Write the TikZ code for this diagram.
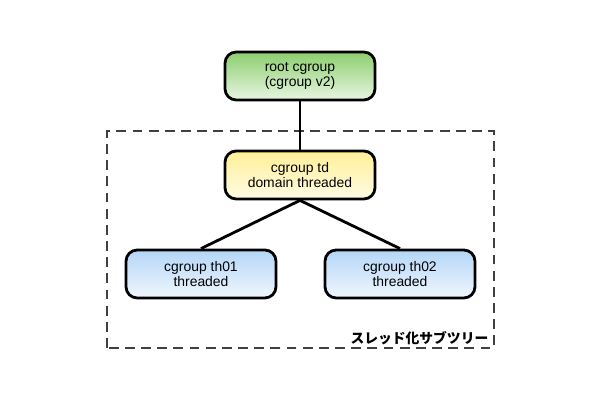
\documentclass[tikz,border=0pt]{standalone}
\usepackage{fontspec}
\setmainfont{Liberation Sans}
\newfontfamily\jpfont{Noto Sans CJK JP}
\usetikzlibrary{positioning, backgrounds}
\definecolor{rootgreen}{RGB}{140,206,110}
\definecolor{tdyellow}{RGB}{255,240,150}
\definecolor{thblue}{RGB}{180,214,248}

\begin{document}
\begin{tikzpicture}[
  cg/.style={rectangle,rounded corners=0.28cm,draw,line width=2pt,
             minimum width=3.75cm,minimum height=1.2cm,inner sep=1pt,
             align=center,font=\fontsize{9.9}{10.6}\selectfont},
  rootbox/.style={cg,top color=rootgreen,bottom color=rootgreen!20},
  tdbox/.style={cg,top color=tdyellow,bottom color=tdyellow!25},
  thbox/.style={cg,top color=thblue,bottom color=thblue!20},
  link/.style={line width=2pt},
  subtree/.style={draw=black!75,dashed,line width=1.5pt,dash pattern=on 7pt off 4.5pt}
]
\useasboundingbox (0,0) rectangle (15,10);

\draw[subtree] (2.675,1.3) rectangle (12.35,6.725);

\node[rootbox] (root) at (7.5,8.1)   {root cgroup\\(cgroup v2)};
\node[tdbox]   (td)   at (7.5,5.625) {cgroup td\\domain threaded};
\node[thbox]   (th01) at (5.025,3.15) {cgroup th01\\threaded};
\node[thbox]   (th02) at (10.0,3.15)  {cgroup th02\\threaded};

\draw[link] (root)--(td);
\draw[link] (td.south)--(th01.north);
\draw[link] (td.south)--(th02.north);

\node[anchor=east,font=\jpfont\bfseries\fontsize{9.8}{11}\selectfont,inner sep=1pt]
  (label) at (12.25,1.55) {スレッド化サブツリー};
\end{tikzpicture}
\end{document}
